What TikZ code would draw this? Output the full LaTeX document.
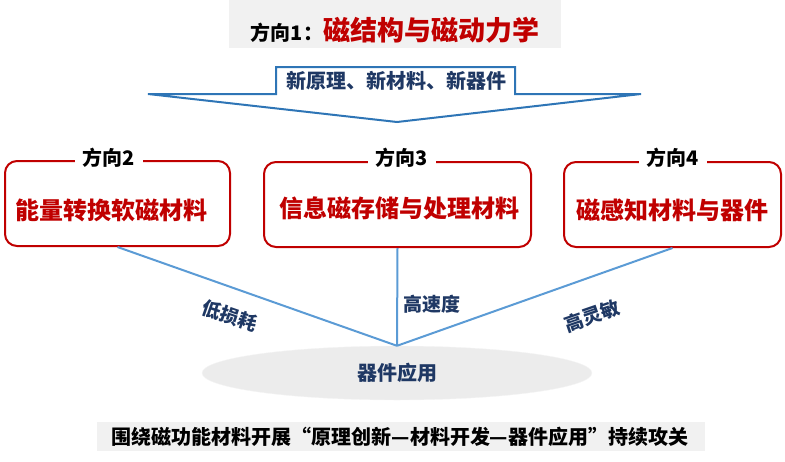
\documentclass[tikz,border=0pt]{standalone}
\usepackage{fontspec}
\setmainfont{Noto Sans CJK SC}
\usepackage{tikz}
\usetikzlibrary{shapes.geometric}

\definecolor{magred}{RGB}{192,0,0}
\definecolor{navy}{RGB}{31,56,100}
\definecolor{arrowblue}{RGB}{46,117,182}
\definecolor{lineblue}{RGB}{91,155,213}
\definecolor{panelgray}{RGB}{241,241,241}

\tikzset{
    dirbox/.style={draw=magred, line width=2pt, rounded corners=12pt, minimum height=85pt},
    dirtag/.style={fill=white, inner xsep=8pt, inner ysep=1pt, font=\bfseries\fontsize{20}{24}\selectfont},
    dirname/.style={text=magred, font=\bfseries\fontsize{24}{28}\selectfont},
    link/.style={lineblue, line width=2pt},
    merit/.style={text=navy, font=\bfseries\fontsize{19}{22}\selectfont},
}

\begin{document}
\begin{tikzpicture}[x=1pt, y=-1pt]
    \useasboundingbox (0, 0) rectangle (785, 461);

    \coordinate (L) at (148, 94);
    \coordinate (T1) at (276, 94);
    \coordinate (T2) at (276, 67);
    \coordinate (T3) at (515, 67);
    \coordinate (T4) at (515, 94);
    \coordinate (R) at (641, 94);
    \coordinate (tip) at (397, 122);

    \fill[panelgray] (229, 0) rectangle (561, 48); % top
    \node (dir1) at (395, 30) {\bfseries\fontsize{20}{24}\selectfont 方向1：{\color{magred}\fontsize{27}{30}\selectfont 磁结构与磁动力学}};

    \draw[arrowblue, line width=2pt] (L) -- (T1) -- (T2) -- (T3) -- (T4) -- (R) -- (tip) -- cycle; % arrow
    \node[text=navy, font=\bfseries\fontsize{20}{24}\selectfont] (motto) at (396, 81) {新原理、新材料、新器件};

    \node[dirbox, minimum width=225pt] (b2) at (117.5, 203.5) {};
    \node[dirbox, minimum width=267pt] (b3) at (397.5, 204.5) {};
    \node[dirbox, minimum width=217pt] (b4) at (672.5, 204.5) {};
    \node[dirtag] (h2) at (109, 158) {方向2};
    \node[dirtag] (h3) at (402, 158) {方向3};
    \node[dirtag] (h4) at (673, 158) {方向4};
    \node[dirname] (t2) at (112, 210) {能量转换软磁材料};
    \node[dirname] (t3) at (399, 208) {信息磁存储与处理材料};
    \node[dirname] (t4) at (672, 210) {磁感知材料与器件};

    \node[ellipse, fill=gray!15, draw=gray!8, minimum width=390pt, minimum height=54pt, text=navy, font=\bfseries\fontsize{20}{24}\selectfont] (app) at (397, 373) {器件应用};

    \draw[link] (b2.south) -- (app.north); % 2
    \draw[link] (b3.south) -- (app.north); % 3
    \draw[link] (b4.south) -- (app.north); % 4

    \node[merit, rotate=-19] (m2) at (230, 316) {低损耗};
    \node[merit] (m3) at (432, 304) {高速度};
    \node[merit, rotate=19] (m4) at (592, 316) {高灵敏};

    \fill[panelgray] (97, 422) rectangle (705, 451); % bottom
    \node[font=\bfseries\fontsize{20}{24}\selectfont] (slogan) at (400, 437) {围绕磁功能材料开展“原理创新—材料开发—器件应用”持续攻关};
\end{tikzpicture}
\end{document}
